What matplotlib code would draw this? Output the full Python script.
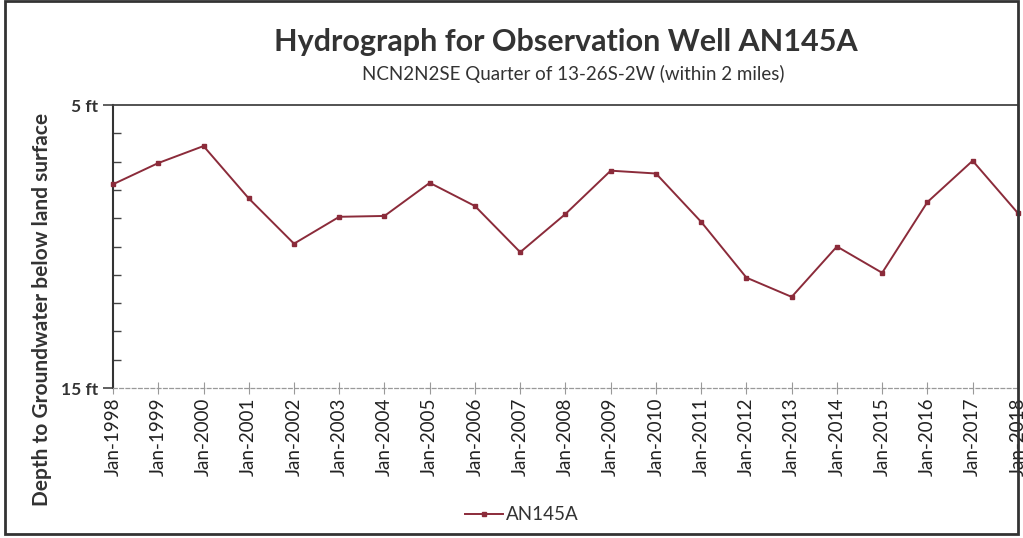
import matplotlib
matplotlib.use("Agg")
import matplotlib.pyplot as plt
from matplotlib.patches import Rectangle
from matplotlib.ticker import MultipleLocator

years = list(range(1998, 2019))
depth_ft = [7.8, 7.05, 6.45, 8.3, 9.9, 8.95, 8.92, 7.75, 8.57, 10.2, 8.85,
            7.32, 7.42, 9.13, 11.1, 11.78, 10.0, 10.93, 8.43, 6.97, 8.82]
tick_labels = [f"Jan-{y}" for y in years]
series_name = "AN145A"

plt.rcParams['font.family'] = ['Lato', 'DejaVu Sans']

fig = plt.figure(figsize=(10.23, 5.38), dpi=100)
ax = fig.add_axes([0.1105, 0.2788, 0.8845, 0.526])

line_color = "#8b2b3a"
ax.plot(years, depth_ft, color=line_color, lw=1.4, marker='s', ms=3.5,
        label=series_name, clip_on=False, zorder=3)

ax.set_xlim(1998, 2018)
ax.set_ylim(15, 5)
ax.set_yticks([5, 15])
ax.set_yticklabels(["5 ft", "15 ft"], fontsize=12.5, fontweight='bold', color='#333333')
ax.yaxis.set_minor_locator(MultipleLocator(1))
ax.tick_params(axis='y', which='major', direction='out', length=7, color='#444444', width=1.2, pad=4)
ax.tick_params(axis='y', which='minor', direction='in', length=6, color='#444444', width=1.0)

ax.set_xticks(years)
ax.set_xticklabels(tick_labels, rotation=90, fontsize=13.5, color='#222222')
ax.tick_params(axis='x', which='major', direction='inout', length=8, color='#999999', width=0.8, pad=3)

ax.spines['left'].set_color('#333333')
ax.spines['left'].set_linewidth(1.5)
ax.spines['top'].set_color('#444444')
ax.spines['top'].set_linewidth(1.3)
ax.spines['right'].set_color('#777777')
ax.spines['right'].set_linewidth(1.0)
ax.spines['bottom'].set_color('#999999')
ax.spines['bottom'].set_linewidth(0.9)
ax.spines['bottom'].set_linestyle((0, (3, 2)))

fig.text(0.553, 0.922, "Hydrograph for Observation Well AN145A", ha='center', va='center',
         fontsize=22, fontweight='bold', color='#333333')
fig.text(0.56, 0.862, "NCN2N2SE Quarter of 13-26S-2W (within 2 miles)", ha='center', va='center',
         fontsize=13.5, color='#333333')
fig.text(0.041, 0.424, "Depth to Groundwater below land surface", rotation=90, ha='center',
         va='center', fontsize=15, fontweight='bold', color='#333333')

leg = fig.legend(loc='center', bbox_to_anchor=(522 / 1023, 1 - 515 / 538), frameon=False,
                 fontsize=13.5, handlelength=2.0, handletextpad=0.2)
for t in leg.get_texts():
    t.set_color('#333333')

fig.patches.append(Rectangle((0.005, 0.008), 0.99, 0.99, transform=fig.transFigure,
                             fill=False, edgecolor='#333333', lw=2))

fig.savefig("out.png", dpi=100)
